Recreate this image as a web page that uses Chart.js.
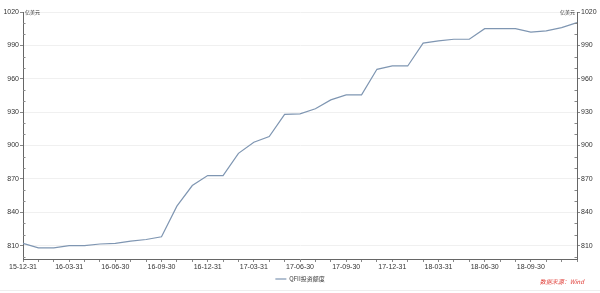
<!DOCTYPE html>
<html>
<head>
<meta charset="utf-8">
<script src="https://cdn.jsdelivr.net/npm/chart.js@4.4.1/dist/chart.umd.min.js"></script>
<style>
  body { margin: 0; background: #fff; }
  canvas { display: block; }
</style>
</head>
<body>
<canvas id="qfii-chart" width="600" height="293"></canvas>
<script>
var months = ['15-12-31', '16-01-31', '16-02-29', '16-03-31', '16-04-30', '16-05-31', '16-06-30',
  '16-07-31', '16-08-31', '16-09-30', '16-10-31', '16-11-30', '16-12-31', '17-01-31', '17-02-28',
  '17-03-31', '17-04-30', '17-05-31', '17-06-30', '17-07-31', '17-08-31', '17-09-30', '17-10-31',
  '17-11-30', '17-12-31', '18-01-31', '18-02-28', '18-03-31', '18-04-30', '18-05-31', '18-06-30',
  '18-07-31', '18-08-31', '18-09-30', '18-10-31', '18-11-30', '18-12-31'];
var qfiiQuota = [812, 808, 808, 810, 810, 811.5, 812, 814, 815.5, 818, 845.5, 864, 873, 873, 893,
  903, 908, 928, 928.5, 933, 941, 945.5, 945.5, 968.5, 971.5, 971.5, 992, 994, 995.5, 995.5, 1005,
  1005, 1005, 1002, 1003, 1006, 1010.5];
var yTicks = [810, 840, 870, 900, 930, 960, 990, 1020];
var yMinorTicks = [800, 820, 830, 850, 860, 880, 890, 910, 920, 940, 950, 970, 980, 1000, 1010];
var seriesName = 'QFII投资额度';
var unitText = '亿美元';
var sourceText = '数据来源：Wind';

var yMin = 798;
var yMax = 1020;
var tickFont = { family: 'Liberation Sans', size: 7 };

function setYTicks(scale) {
  scale.ticks = yTicks.map(function(v) { return { value: v }; });
}

function plainNumber(val) {
  return String(val);
}

var extras = {
  id: 'extras',
  afterDraw: function(chart) {
    var ctx = chart.ctx;
    var left = chart.scales.y;
    var right = chart.scales.y2;
    ctx.save();
    // minor ticks every 10, inside the axes
    ctx.strokeStyle = '#888';
    ctx.lineWidth = 1;
    for (var i = 0; i < yMinorTicks.length; i++) {
      var py = Math.round(left.getPixelForValue(yMinorTicks[i])) + 0.5;
      ctx.beginPath();
      ctx.moveTo(left.right, py);
      ctx.lineTo(left.right + 2.5, py);
      ctx.moveTo(right.left, py);
      ctx.lineTo(right.left - 2.5, py);
      ctx.stroke();
    }
    // units
    ctx.fillStyle = '#333';
    ctx.font = '5px "Noto Sans CJK SC"';
    ctx.textBaseline = 'middle';
    ctx.textAlign = 'left';
    ctx.fillText(unitText, left.right + 2, chart.chartArea.top);
    ctx.textAlign = 'right';
    ctx.fillText(unitText, right.left - 2, chart.chartArea.top);
    // source
    ctx.fillStyle = '#e0403a';
    ctx.font = 'italic 6px "Noto Sans CJK SC"';
    ctx.textAlign = 'right';
    ctx.fillText(sourceText, 584, 282);
    // bottom rule
    ctx.strokeStyle = '#eeeeee';
    ctx.beginPath();
    ctx.moveTo(0, 290.5);
    ctx.lineTo(600, 290.5);
    ctx.stroke();
    ctx.restore();
  }
};

var chartCtx = document.getElementById('qfii-chart').getContext('2d');
var qfiiChart = new Chart(chartCtx, {
  type: 'line',
  data: {
    labels: months,
    datasets: [{
      label: seriesName,
      data: qfiiQuota,
      borderColor: '#7f96b2',
      backgroundColor: '#7f96b2',
      borderWidth: 1.2,
      pointRadius: 0,
      tension: 0,
      yAxisID: 'y'
    }]
  },
  options: {
    responsive: false,
    animation: false,
    layout: { padding: { top: 12, left: 0, right: 0, bottom: 1 } },
    plugins: {
      tooltip: { enabled: false },
      legend: {
        position: 'bottom',
        labels: {
          usePointStyle: true,
          pointStyle: 'line',
          pointStyleWidth: 11,
          boxHeight: 6,
          padding: 3,
          color: '#333',
          font: { family: '"Noto Sans CJK SC"', size: 6 }
        }
      }
    },
    scales: {
      x: {
        offset: false,
        afterFit: function(scale) { scale.height = 14; },
        border: { color: '#666' },
        grid: { drawOnChartArea: false, drawTicks: true, tickLength: 3, tickColor: '#888' },
        ticks: {
          autoSkip: false,
          maxRotation: 0,
          padding: 1,
          color: '#333',
          font: tickFont,
          callback: function(val, index) {
            if (index % 3 !== 0 || index === months.length - 1) {
              return '';
            }
            return this.getLabelForValue(val);
          }
        }
      },
      y: {
        position: 'left',
        min: yMin,
        max: yMax,
        afterBuildTicks: setYTicks,
        afterFit: function(scale) { scale.width = 23; },
        border: { color: '#666' },
        grid: { color: '#f0f0f0', tickColor: '#888', tickLength: 3 },
        ticks: { padding: 1, color: '#333', font: tickFont, callback: plainNumber }
      },
      y2: {
        position: 'right',
        display: true,
        min: yMin,
        max: yMax,
        afterBuildTicks: setYTicks,
        afterFit: function(scale) { scale.width = 23; },
        border: { color: '#666' },
        grid: { drawOnChartArea: false, tickColor: '#888', tickLength: 3 },
        ticks: { padding: 1, color: '#333', font: tickFont, callback: plainNumber }
      }
    }
  },
  plugins: [extras]
});
</script>
</body>
</html>
